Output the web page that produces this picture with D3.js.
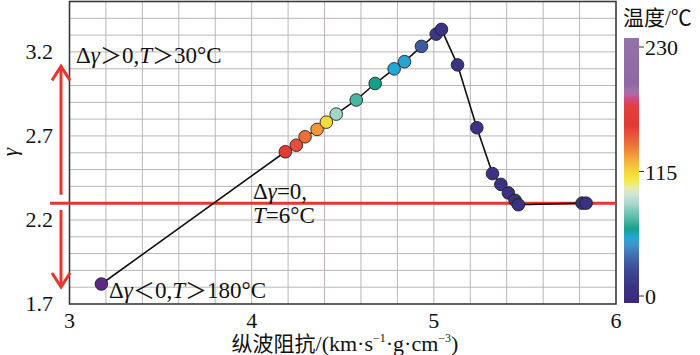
<!DOCTYPE html>
<html>
<head>
<meta charset="utf-8">
<script src="https://cdn.jsdelivr.net/npm/d3@7"></script>
<style>
    body { margin: 0; background: #fff; }
    svg { display: block; }
    text { font-family: "Liberation Serif", "Times New Roman", "Noto Sans CJK SC", serif; fill: #111; }
</style>
</head>
<body>
<svg class="chart" width="700" height="355"></svg>
<script>
// data, in path order
var impedance = [3.175, 4.185, 4.245, 4.293, 4.359, 4.41, 4.464, 4.574, 4.678, 4.782, 4.839,
                 4.932, 5.013, 5.042, 5.13, 5.236, 5.322, 5.368, 5.409, 5.446, 5.464, 5.814, 5.836];
var gamma = [1.819, 2.606, 2.645, 2.695, 2.739, 2.782, 2.83, 2.914, 3.012, 3.099, 3.142,
             3.233, 3.306, 3.334, 3.123, 2.749, 2.476, 2.412, 2.361, 2.317, 2.291, 2.3, 2.3];
var temperature = [200, 158, 151, 141, 131, 113, 84, 70, 62, 54, 53,
                   30, 12, 10, 8, 7, 7, 6, 6, 6, 6, 5, 5];

var xTicks = [3, 4, 5, 6];
var yTicks = [1.7, 2.2, 2.7, 3.2];
var barTicks = [0, 115, 230];

// colour map of the temperature bar
var mapValues = [-10, 10, 24, 38, 47, 54, 62, 70, 84, 94, 100, 106, 113, 121, 130, 139, 149, 158, 175, 181, 188, 196, 245];
var mapColors = ['#3a2776', '#3b3486', '#3d4a98', '#4470b0', '#3f94cc', '#22a8d6', '#16a08a', '#4cb4a2',
                 '#a2d6c8', '#cfe6d8', '#e6ecaa', '#f4ea4e', '#f5dc3a', '#f5c03c', '#f29c3a', '#ee7436',
                 '#e8543a', '#e23a34', '#e0403e', '#d8457f', '#a86fab', '#8e68a6', '#9472aa'];

var svg = d3.select('svg.chart');
var plotLeft = 69.5, plotRight = 616, plotTop = 1.5, plotBottom = 304;

var x = d3.scaleLinear().domain([3, 6]).range([plotLeft, plotRight]);
var y = d3.scaleLinear().domain([1.7, 3.5]).range([plotBottom, plotTop]);
var color = d3.scaleLinear().domain(mapValues).range(mapColors);

// grid
svg.append('g').selectAll('line')
    .data(d3.range(3.2, 5.9, 0.2))
    .enter()
        .append('line')
        .attr('x1', function(d) { return x(d); })
        .attr('x2', function(d) { return x(d); })
        .attr('y1', plotTop)
        .attr('y2', plotBottom)
        .attr('stroke', '#bdb5b5')
        .attr('stroke-width', 1);

svg.append('g').selectAll('line')
    .data(d3.range(1.8, 3.45, 0.1))
    .enter()
        .append('line')
        .attr('x1', plotLeft)
        .attr('x2', plotRight)
        .attr('y1', function(d) { return y(d); })
        .attr('y2', function(d) { return y(d); })
        .attr('stroke', '#bdb5b5')
        .attr('stroke-width', 1);

svg.append('rect')
    .attr('x', plotLeft)
    .attr('y', plotTop)
    .attr('width', plotRight - plotLeft)
    .attr('height', plotBottom - plotTop)
    .attr('fill', 'none')
    .attr('stroke', '#3a3a3a')
    .attr('stroke-width', 1.6);

// tick labels
svg.selectAll('.ytick')
    .data(yTicks)
    .enter()
        .append('text')
        .attr('class', 'ytick')
        .attr('x', 53)
        .attr('y', function(d) { return y(d) + 7; })
        .attr('text-anchor', 'end')
        .attr('font-size', '22px')
        .text(function(d) { return d.toFixed(1); });

svg.selectAll('.xtick')
    .data(xTicks)
    .enter()
        .append('text')
        .attr('class', 'xtick')
        .attr('x', function(d) { return x(d); })
        .attr('y', 328)
        .attr('text-anchor', 'middle')
        .attr('font-size', '22px')
        .text(function(d) { return d; });

// axis titles
var xTitle = svg.append('text')
    .attr('x', 345)
    .attr('y', 351)
    .attr('text-anchor', 'middle')
    .attr('font-size', '22px');
xTitle.append('tspan').attr('font-family', '"Noto Sans CJK SC", sans-serif').attr('font-size', '21px').text('纵波阻抗');
xTitle.append('tspan').text('/(km·s');
xTitle.append('tspan').attr('font-size', '12px').attr('dy', -9).text('−1');
xTitle.append('tspan').attr('dy', 9).text('·g·cm');
xTitle.append('tspan').attr('font-size', '12px').attr('dy', -9).text('−3');
xTitle.append('tspan').attr('dy', 9).text(')');

svg.append('text')
    .attr('transform', 'translate(17,152) rotate(-90)')
    .attr('text-anchor', 'middle')
    .attr('font-size', '21px')
    .attr('font-style', 'italic')
    .text('γ');

// red reference line and arrows
var red = '#e8362e';
var arrowX = 61;

svg.append('line')
    .attr('x1', 50)
    .attr('x2', plotRight)
    .attr('y1', y(2.3))
    .attr('y2', y(2.3))
    .attr('stroke', red)
    .attr('stroke-width', 3);

function arrow(from, to) {
    var dir = y(to) < y(from) ? 1 : -1;
    svg.append('line')
        .attr('x1', arrowX).attr('x2', arrowX)
        .attr('y1', y(from)).attr('y2', y(to) + dir)
        .attr('stroke', red).attr('stroke-width', 3);
    svg.append('path')
        .attr('d', 'M' + (arrowX - 9) + ',' + (y(to) + dir * 15) +
                   'L' + arrowX + ',' + (y(to) + dir) +
                   'L' + (arrowX + 9) + ',' + (y(to) + dir * 15))
        .attr('fill', 'none')
        .attr('stroke', red)
        .attr('stroke-width', 3);
}
arrow(2.35, 3.12);
arrow(2.26, 1.795);

// path and points
var line = d3.line()
    .x(function(d) { return x(d[0]); })
    .y(function(d) { return y(d[1]); });

svg.append('path')
    .datum(d3.zip(impedance, gamma))
    .attr('d', line)
    .attr('fill', 'none')
    .attr('stroke', '#111')
    .attr('stroke-width', 1.6);

svg.selectAll('.point')
    .data(d3.zip(impedance, gamma, temperature))
    .enter()
        .append('circle')
        .attr('class', 'point')
        .attr('cx', function(d) { return x(d[0]); })
        .attr('cy', function(d) { return y(d[1]); })
        .attr('r', 6.3)
        .attr('fill', function(d, i) { return i === 0 ? '#5a2a86' : color(d[2]); })
        .attr('stroke', '#222')
        .attr('stroke-width', 0.9);

// annotations
function note(px, py, parts) {
    var t = svg.append('text')
        .attr('x', px)
        .attr('y', py)
        .attr('font-size', '23px');
    parts.forEach(function(p) {
        var s = t.append('tspan').text(p[0]);
        if (p[1]) s.attr('font-style', 'italic');
        if (p[2]) s.attr('font-family', '"Noto Sans CJK SC", sans-serif').attr('font-size', '22px');
    });
}
note(76, 63, [['Δ'], ['γ', 1], ['＞', 0, 1], ['0,'], ['T', 1], ['＞', 0, 1], ['30°C']]);
note(253, 199, [['Δ'], ['γ', 1], ['=0,']]);
note(253, 223, [['T', 1], ['=6°C']]);
note(109, 298, [['Δ'], ['γ', 1], ['＜', 0, 1], ['0,'], ['T', 1], ['＞', 0, 1], ['180°C']]);

// colour bar
var barY = d3.scaleLinear().domain([0, 230]).range([296, 47]);
var barTop = 38, barBottom = 303, barLeft = 624, barWidth = 15;

var grad = svg.append('defs').append('linearGradient')
    .attr('id', 'tempGrad')
    .attr('x1', 0).attr('y1', 1).attr('x2', 0).attr('y2', 0);

grad.selectAll('stop')
    .data(mapValues)
    .enter()
        .append('stop')
        .attr('offset', function(d) {
            var v0 = barY.invert(barBottom), v1 = barY.invert(barTop);
            return Math.max(0, Math.min(1, (d - v0) / (v1 - v0)));
        })
        .attr('stop-color', function(d) { return color(d); });

svg.append('rect')
    .attr('x', barLeft)
    .attr('y', barTop)
    .attr('width', barWidth)
    .attr('height', barBottom - barTop)
    .attr('fill', 'url(#tempGrad)');

svg.selectAll('.btick')
    .data(barTicks)
    .enter()
        .append('line')
        .attr('class', 'btick')
        .attr('x1', barLeft + barWidth)
        .attr('x2', barLeft + barWidth + 5)
        .attr('y1', function(d) { return barY(d); })
        .attr('y2', function(d) { return barY(d); })
        .attr('stroke', '#333')
        .attr('stroke-width', 1);

svg.selectAll('.blabel')
    .data(barTicks)
    .enter()
        .append('text')
        .attr('class', 'blabel')
        .attr('x', barLeft + barWidth + 6)
        .attr('y', function(d) { return barY(d) + 8; })
        .attr('font-size', '22px')
        .text(function(d) { return d; });

var barTitle = svg.append('text')
    .attr('x', 623)
    .attr('y', 25)
    .attr('font-size', '21px');
barTitle.append('tspan').attr('font-family', '"Noto Sans CJK SC", sans-serif').text('温度');
barTitle.append('tspan').text('/℃');
</script>
</body>
</html>
